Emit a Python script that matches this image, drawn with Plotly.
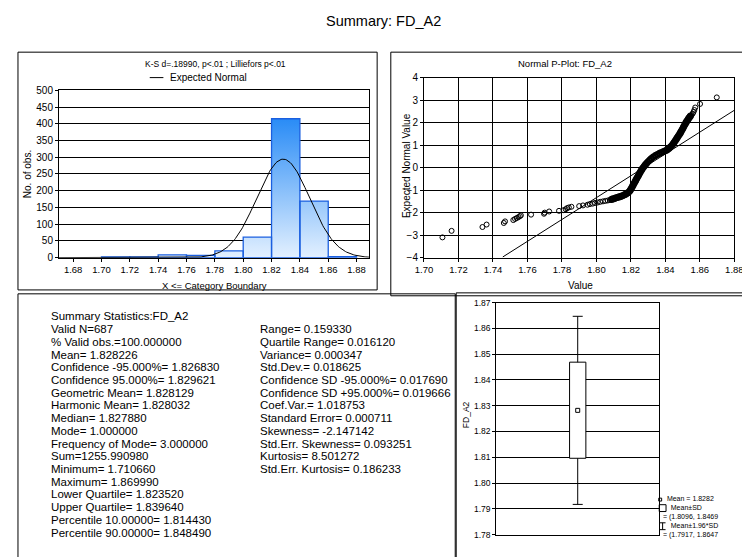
import numpy as np
import plotly.graph_objects as go

# ---------------- data ----------------
bin_edges = [1.70, 1.72, 1.74, 1.76, 1.78, 1.80, 1.82, 1.84, 1.86, 1.88]
bin_counts = [2, 2, 8, 7, 20, 61, 415, 169, 3]
hist_xticks = [1.68, 1.70, 1.72, 1.74, 1.76, 1.78, 1.80, 1.82, 1.84, 1.86, 1.88]

n_valid = 687
mean_val = 1.828226
sd_val = 0.018625

# normal probability plot: observed value vs expected normal value
pp_x_low = [1.7107, 1.7160, 1.7339, 1.7363, 1.7463, 1.7470, 1.7518, 1.7528, 1.7538, 1.7548,
            1.7556, 1.7562, 1.7621, 1.7696, 1.7700, 1.7726, 1.7783, 1.7810, 1.7822, 1.7830,
            1.7840, 1.7855, 1.7900, 1.7922, 1.7948, 1.7962, 1.7978, 1.7992, 1.8007, 1.8022,
            1.8038, 1.8052, 1.8066, 1.8078]
pp_z_low = [-3.10, -2.81, -2.64, -2.53, -2.46, -2.39, -2.33, -2.28, -2.24, -2.20,
            -2.16, -2.12, -2.09, -2.05, -2.00, -1.95, -1.92, -1.89, -1.85, -1.80,
            -1.77, -1.74, -1.71, -1.68, -1.65, -1.62, -1.60, -1.57, -1.55, -1.52,
            -1.50, -1.48, -1.46, -1.44]
pp_x_mid = [1.8088, 1.8097, 1.8106, 1.8115, 1.8124, 1.8133, 1.8142, 1.8151, 1.8160, 1.8168,
            1.8176, 1.8184, 1.8191, 1.8197, 1.8202, 1.8207, 1.8212, 1.8217, 1.8222, 1.8227,
            1.8232, 1.8237, 1.8242, 1.8247, 1.8252, 1.8257, 1.8263, 1.8269, 1.8276, 1.8283,
            1.8291, 1.8299, 1.8308, 1.8318, 1.8329, 1.8341, 1.8353, 1.8365, 1.8377, 1.8389,
            1.8400, 1.8410, 1.8419, 1.8427, 1.8435, 1.8442, 1.8449, 1.8455, 1.8461, 1.8467,
            1.8473, 1.8479, 1.8485, 1.8490, 1.8495, 1.8500, 1.8505, 1.8510, 1.8515, 1.8520,
            1.8525, 1.8530, 1.8535, 1.8540, 1.8545]
pp_z_mid = [-1.41, -1.39, -1.37, -1.34, -1.32, -1.30, -1.28, -1.25, -1.22, -1.19,
            -1.15, -1.11, -1.06, -1.00, -0.93, -0.86, -0.79, -0.72, -0.65, -0.58,
            -0.51, -0.44, -0.37, -0.30, -0.23, -0.16, -0.09, -0.02, 0.05, 0.12,
            0.19, 0.26, 0.33, 0.40, 0.47, 0.53, 0.58, 0.63, 0.67, 0.71,
            0.75, 0.79, 0.84, 0.90, 0.96, 1.03, 1.10, 1.17, 1.24, 1.31,
            1.38, 1.45, 1.52, 1.59, 1.66, 1.73, 1.80, 1.87, 1.94, 2.01,
            2.07, 2.13, 2.19, 2.24, 2.29]
pp_x_high = [1.8552, 1.8558, 1.8563, 1.8568, 1.8573, 1.8601, 1.8698]
pp_z_high = [2.34, 2.40, 2.47, 2.56, 2.67, 2.83, 3.12]
pp_line_x = [1.7457, 1.8800]
pp_line_z = [-3.97, 2.55]

box_mean = 1.8282
box_sd_lo, box_sd_hi = 1.8096, 1.8469
box_ci_lo, box_ci_hi = 1.7917, 1.8647

stats_left = ["Summary Statistics:FD_A2", "Valid N=687", "% Valid obs.=100.000000",
              "Mean= 1.828226", "Confidence -95.000%= 1.826830",
              "Confidence 95.000%= 1.829621", "Geometric Mean= 1.828129",
              "Harmonic Mean= 1.828032", "Median= 1.827880", "Mode= 1.000000",
              "Frequency of Mode= 3.000000", "Sum=1255.990980", "Minimum= 1.710660",
              "Maximum= 1.869990", "Lower Quartile= 1.823520", "Upper Quartile= 1.839640",
              "Percentile 10.00000= 1.814430", "Percentile 90.00000= 1.848490"]
stats_right = ["Range= 0.159330", "Quartile Range= 0.016120", "Variance= 0.000347",
               "Std.Dev.= 0.018625", "Confidence SD -95.000%= 0.017690",
               "Confidence SD +95.000%= 0.019666", "Coef.Var.= 1.018753",
               "Standard Error= 0.000711", "Skewness= -2.147142",
               "Std.Err. Skewness= 0.093251", "Kurtosis= 8.501272",
               "Std.Err. Kurtosis= 0.186233"]
box_legend = ["&nbsp;&nbsp;Mean = 1.8282", "&nbsp;&nbsp;&nbsp;&nbsp;Mean±SD",
              "= (1.8096, 1.8469", "&nbsp;&nbsp;&nbsp;&nbsp;Mean±1.96*SD",
              "= (1.7917, 1.8647"]

# ---------------- helpers ----------------
W, H = 750, 557
OFF = 8  # page body margin
FONT = "Arial, Liberation Sans, sans-serif"


def px(x):
    return (x - OFF) / W


def py(y):
    return 1 - (y - OFF) / H


fig = go.Figure()

# histogram bars (gradient-filled polygons built from bin data)
bx, by = [], []
for i, c in enumerate(bin_counts):
    l, r = bin_edges[i], bin_edges[i + 1]
    bx += [l, l, r, r, l, None]
    by += [0, c, c, 0, 0, None]
fig.add_trace(go.Scatter(
    x=bx, y=by, mode="lines", fill="toself",
    fillgradient=dict(type="vertical", start=0, stop=max(bin_counts),
                      colorscale=[[0, "#e8f3ff"], [1, "#2a8cf6"]]),
    line=dict(color="#1a5fe0", width=1.3),
    xaxis="x", yaxis="y", showlegend=False, hoverinfo="skip"))

# expected normal curve
bw = bin_edges[1] - bin_edges[0]
cx = np.linspace(1.670, 1.889, 300)
cy = n_valid * bw * np.exp(-0.5 * ((cx - mean_val) / sd_val) ** 2) / (sd_val * np.sqrt(2 * np.pi))
fig.add_trace(go.Scatter(x=cx, y=cy, mode="lines", line=dict(color="black", width=1),
                         xaxis="x", yaxis="y", showlegend=False, hoverinfo="skip"))

# P-plot
fig.add_trace(go.Scatter(x=pp_line_x, y=pp_line_z, mode="lines",
                         line=dict(color="black", width=1),
                         xaxis="x2", yaxis="y2", showlegend=False))
for xs, zs, lw in [(pp_x_low, pp_z_low, 1), (pp_x_mid, pp_z_mid, 2.2), (pp_x_high, pp_z_high, 1)]:
    fig.add_trace(go.Scatter(x=xs, y=zs, mode="markers",
                             marker=dict(symbol="circle-open", size=5, color="black",
                                         line=dict(width=lw)),
                             xaxis="x2", yaxis="y2", showlegend=False))

# box plot (mean, mean±SD, mean±1.96SD)
fig.add_trace(go.Scatter(
    x=[0.5], y=[box_mean], mode="markers", marker=dict(size=0, color="black"),
    error_y=dict(type="data", symmetric=False, array=[box_ci_hi - box_mean],
                 arrayminus=[box_mean - box_ci_lo], color="black", thickness=1, width=5),
    xaxis="x3", yaxis="y3", showlegend=False))
fig.add_trace(go.Scatter(
    x=[0.45, 0.55, 0.55, 0.45, 0.45],
    y=[box_sd_lo, box_sd_lo, box_sd_hi, box_sd_hi, box_sd_lo],
    mode="lines", fill="toself", fillcolor="white", line=dict(color="black", width=1),
    xaxis="x3", yaxis="y3", showlegend=False))
fig.add_trace(go.Scatter(
    x=[0.5], y=[box_mean], mode="markers",
    marker=dict(symbol="square-open", size=4, color="black", line=dict(width=1)),
    xaxis="x3", yaxis="y3", showlegend=False))

axis_common = dict(showline=True, linecolor="black", linewidth=1, mirror=True,
                   zeroline=False, gridcolor="black", gridwidth=1,
                   ticks="outside", ticklen=3, tickcolor="black")
xfont = dict(tickfont=dict(family=FONT, size=9.5, color="black"))
yfont = dict(tickfont=dict(family=FONT, size=10, color="black"))

fig.update_layout(
    width=W, height=H, margin=dict(l=0, r=0, t=0, b=0),
    paper_bgcolor="white", plot_bgcolor="white", showlegend=False,
    xaxis=dict(domain=[px(51), px(369)], range=[1.670, 1.889], tickvals=hist_xticks,
               tickformat=".2f", showgrid=False, anchor="y", **axis_common, **xfont),
    yaxis=dict(domain=[py(257), py(86)], range=[0, 500], dtick=50, showgrid=True,
               anchor="x", **axis_common, **yfont),
    xaxis2=dict(domain=[px(425), px(743)], range=[1.70, 1.88], dtick=0.02,
                tickformat=".2f", showgrid=True, anchor="y2", **axis_common, **xfont),
    yaxis2=dict(domain=[py(257), py(73)], range=[-4, 4], dtick=1, showgrid=True,
                anchor="x2", **axis_common, **yfont),
    xaxis3=dict(domain=[px(499), px(666)], range=[0, 1], showgrid=False,
                showticklabels=False, anchor="y3",
                showline=True, linecolor="black", mirror=True, zeroline=False, ticks=""),
    yaxis3=dict(domain=[py(540), py(303)], range=[1.78, 1.87], dtick=0.01,
                tickformat=".2f", showgrid=True, anchor="x3", **axis_common,
                tickfont=dict(family=FONT, size=8.5, color="black")),
)

# panel frames
frames = [(9, 47, 377, 290), (391, 47, 770, 296), (9, 294, 457, 575), (458, 293, 770, 575)]
for x0, y0, x1, y1 in frames:
    fig.add_shape(type="rect", xref="paper", yref="paper",
                  x0=px(x0), x1=px(x1), y0=py(y1), y1=py(y0),
                  line=dict(color="black", width=1))

ann = []


def text(x, y, s, size=10, anchor="center", angle=0):
    ann.append(dict(x=px(x), y=py(y), xref="paper", yref="paper", text=s,
                    showarrow=False, xanchor=anchor, yanchor="middle", textangle=angle,
                    align="left", font=dict(family=FONT, size=size, color="black")))


text(384, 15, "Summary: FD_A2", 14.5)
text(211, 59, "K-S d=.18990, p<.01 ; Lilliefors p<.01", 8.5)
text(163, 73, "Expected Normal", 10, "left")
fig.add_shape(type="line", xref="paper", yref="paper", x0=px(144), x1=px(158),
              y0=py(73), y1=py(73), line=dict(color="black", width=1))
text(19, 172, "No. of obs.", 10, angle=-90)
text(210, 285, "X <= Category Boundary", 9.5)
text(569, 59, "Normal P-Plot: FD_A2", 9.5)
text(407, 163, "Expected Normal Value", 10, angle=-90)
text(585, 285, "Value", 10)
text(468, 417, "FD_A2", 8.5, angle=-90)

for i, s in enumerate(stats_left):
    text(41, 317 + 13 * i, s, 11.5, "left")
for i, s in enumerate(stats_right):
    text(255, 330 + 13 * i, s, 11.5, "left")

# box legend (single multi-line text block)
text(668, 522.5, "<br>".join(box_legend), 7, "left")
fig.add_shape(type="rect", xref="paper", yref="paper", x0=px(665.5), x1=px(668.5),
              y0=py(505.8), y1=py(502.8), line=dict(color="black", width=1))
fig.add_shape(type="rect", xref="paper", yref="paper", x0=px(666), x1=px(673),
              y0=py(516.5), y1=py(509.5), line=dict(color="black", width=1))
for seg in [(669.5, 528, 669.5, 535), (666.5, 528, 672.5, 528), (666.5, 535, 672.5, 535)]:
    fig.add_shape(type="line", xref="paper", yref="paper", x0=px(seg[0]), x1=px(seg[2]),
                  y0=py(seg[1]), y1=py(seg[3]), line=dict(color="black", width=1))

fig.update_layout(annotations=ann)
fig.write_html("out.html")
